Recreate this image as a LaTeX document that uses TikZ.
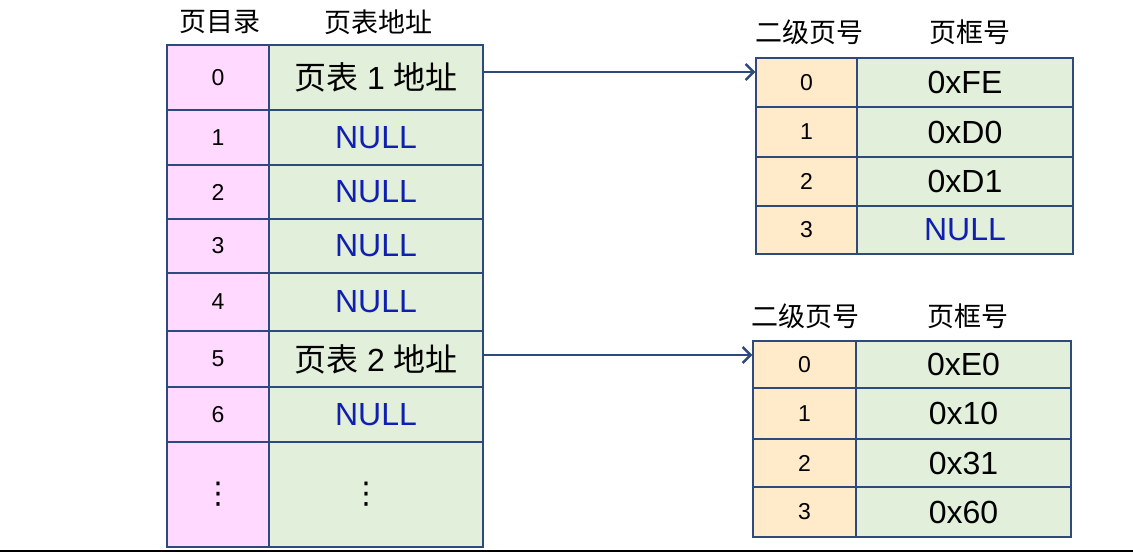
\documentclass[tikz,border=0pt]{standalone}
\usepackage{fontspec}
\setmainfont{Liberation Sans}
\newfontfamily\cjk{Noto Sans CJK SC}
\newfontfamily\symf{DejaVu Sans}
\usetikzlibrary{arrows.meta}

\definecolor{dirpink}{HTML}{FFD9FF}
\definecolor{cellgreen}{HTML}{E2EFDA}
\definecolor{idxcream}{HTML}{FFEBC9}
\definecolor{navy}{HTML}{2E4A7D}
\definecolor{nullblue}{HTML}{0F1FB0}

\newcommand{\nulltxt}{\textcolor{nullblue}{NULL}}
\newcommand{\pgaddr}[1]{{\cjk 页表} #1 {\cjk 地址}}
\newcommand{\moredots}{{\symf\fontsize{30}{36}\selectfont ⋮}}

\tikzset{
  cell/.style={draw=navy, line width=1.3pt, inner sep=0pt},
  idxcell/.style={cell, fill=#1, font=\fontsize{23}{27}\selectfont},
  valcell/.style={cell, fill=cellgreen, font=\fontsize{32}{38}\selectfont},
  head/.style={font=\fontsize{27}{32}\selectfont\cjk},
  link/.style={draw=navy, line width=2.5pt, -{Straight Barb[length=8pt,width=16pt,line width=2.5pt]}}
}

\begin{document}
\begin{tikzpicture}[x=1pt, y=-1pt]
  \useasboundingbox (0,0) rectangle (1133,553);

  % page directory
  \node[head] (hdir)  at (220,22) {页目录};
  \node[head] (haddr) at (378,22) {页表地址};
  \foreach \i/\ya/\yb/\lab/\txt in {0/45/110/0/\pgaddr{1}, 1/110/165/1/\nulltxt,
      2/165/219/2/\nulltxt, 3/219/273/3/\nulltxt, 4/273/331/4/\nulltxt,
      5/331/387/5/\pgaddr{2}, 6/387/442/6/\nulltxt,
      7/442/547/\moredots/\hspace*{-20pt}\moredots} {
    \pgfmathsetmacro\ym{(\ya+\yb)/2}
    \pgfmathsetmacro\h{\yb-\ya}
    \node[idxcell=dirpink, minimum width=102pt, minimum height=\h pt] (d\i) at (218,\ym) {\lab};
    \node[valcell, minimum width=214pt, minimum height=\h pt] (p\i) at (376,\ym) {\txt};
  }

  % second level table 1
  \node[head] (hsa) at (809,32) {二级页号};
  \node[head] (hfa) at (970,32) {页框号};
  \foreach \i/\ya/\yb/\txt in {0/58/107/0xFE, 1/107/157/0xD0,
      2/157/206/0xD1, 3/206/254/\nulltxt} {
    \pgfmathsetmacro\ym{(\ya+\yb)/2}
    \pgfmathsetmacro\h{\yb-\ya}
    \node[idxcell=idxcream, minimum width=101pt, minimum height=\h pt] (a\i) at (806.5,\ym) {\i};
    \node[valcell, minimum width=216pt, minimum height=\h pt] (fa\i) at (965,\ym) {\txt};
  }

  % second level table 2
  \node[head] (hsb) at (805,316) {二级页号};
  \node[head] (hfb) at (968,316) {页框号};
  \foreach \i/\ya/\yb/\txt in {0/341/388/0xE0, 1/388/439/0x10,
      2/439/487/0x31, 3/487/537/0x60} {
    \pgfmathsetmacro\ym{(\ya+\yb)/2}
    \pgfmathsetmacro\h{\yb-\ya}
    \node[idxcell=idxcream, minimum width=103pt, minimum height=\h pt] (b\i) at (804.5,\ym) {\i};
    \node[valcell, minimum width=215pt, minimum height=\h pt] (fb\i) at (963.5,\ym) {\txt};
  }

  % pointers
  \draw[link] ([yshift=5.5pt]p0.east) -- ([yshift=5.5pt]p0.east -| a0.west);
  \draw[link] ([yshift=4pt]p5.east) -- ([yshift=4pt]p5.east -| b0.west);

  \draw[line width=2pt] (0,551) -- (1133,551);
\end{tikzpicture}
\end{document}
